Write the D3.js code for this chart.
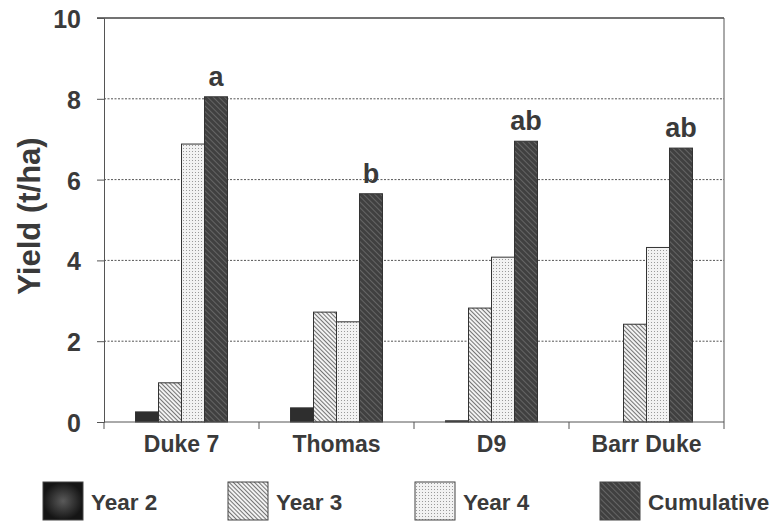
<!DOCTYPE html>
<html>
<head>
<meta charset="utf-8">
<script src="https://cdn.jsdelivr.net/npm/d3@7"></script>
<style>
  html, body { margin: 0; padding: 0; background: #fff; }
  svg { display: block; }
  text { font-family: "Liberation Sans", Arial, sans-serif; font-weight: bold; fill: #3a3a3a; }
</style>
</head>
<body>
<svg id="chart" width="776" height="522"></svg>
<script>
// ---- data ----
const categories = ["Duke 7", "Thomas", "D9", "Barr Duke"];
const seriesNames = ["Year 2", "Year 3", "Year 4", "Cumulative"];
const year2 = [0.25, 0.35, 0.03, 0];
const year3 = [0.97, 2.72, 2.82, 2.42];
const year4 = [6.88, 2.48, 4.08, 4.32];
const cumulative = [8.05, 5.65, 6.95, 6.78];
const sigLetters = ["a", "b", "ab", "ab"];
const yTicks = [0, 2, 4, 6, 8, 10];
const yTitle = "Yield (t/ha)";

const seriesValues = [year2, year3, year4, cumulative];
const fills = ["url(#pYear2)", "url(#pYear3)", "url(#pYear4)", "url(#pCum)"];
const legendFills = ["url(#gYear2)", "url(#pYear3)", "url(#pYear4)", "url(#pCum)"];

const svg = d3.select("#chart");
const defs = svg.append("defs");

// patterns
const p2 = defs.append("pattern").attr("id", "pYear2").attr("patternUnits", "userSpaceOnUse")
  .attr("width", 4).attr("height", 4);
p2.append("rect").attr("width", 4).attr("height", 4).attr("fill", "#2e2e2e");

const g2 = defs.append("radialGradient").attr("id", "gYear2");
g2.append("stop").attr("offset", "0%").attr("stop-color", "#5a5a5a");
g2.append("stop").attr("offset", "100%").attr("stop-color", "#151515");

const p3 = defs.append("pattern").attr("id", "pYear3").attr("patternUnits", "userSpaceOnUse")
  .attr("width", 3).attr("height", 3).attr("patternTransform", "rotate(-45)");
p3.append("rect").attr("width", 3).attr("height", 3).attr("fill", "#f2f2f2");
p3.append("line").attr("x1", 0).attr("y1", 0).attr("x2", 0).attr("y2", 3)
  .attr("stroke", "#4a4a4a").attr("stroke-width", 1.5);

const p4 = defs.append("pattern").attr("id", "pYear4").attr("patternUnits", "userSpaceOnUse")
  .attr("width", 3).attr("height", 3);
p4.append("rect").attr("width", 3).attr("height", 3).attr("fill", "#f2f2f2");
p4.append("rect").attr("x", 1).attr("y", 1).attr("width", 1).attr("height", 1).attr("fill", "#9a9a9a");

const pc = defs.append("pattern").attr("id", "pCum").attr("patternUnits", "userSpaceOnUse")
  .attr("width", 4).attr("height", 4).attr("patternTransform", "rotate(-45)");
pc.append("rect").attr("width", 4).attr("height", 4).attr("fill", "#404040");
pc.append("line").attr("x1", 0).attr("y1", 0).attr("x2", 0).attr("y2", 4)
  .attr("stroke", "#8a8a8a").attr("stroke-width", 1);

// scales
const x0 = d3.scaleBand().domain(categories).range([104, 724]).paddingInner(0).paddingOuter(0);
const x1 = d3.scaleBand().domain(seriesNames).range([0, x0.bandwidth()]).paddingInner(0).paddingOuter(1.37);
const y = d3.scaleLinear().domain([0, 10]).range([422, 18]);

// grid (dotted)
svg.append("g").selectAll("line").data(yTicks.filter(t => t > 0 && t < 10)).join("line")
  .attr("x1", 104).attr("x2", 724)
  .attr("y1", d => y(d)).attr("y2", d => y(d))
  .attr("stroke", "#555").attr("stroke-width", 1).attr("stroke-dasharray", "2,1.5");

// top and right frame
svg.append("line").attr("x1", 97).attr("x2", 724).attr("y1", y(10)).attr("y2", y(10))
  .attr("stroke", "#444").attr("stroke-width", 1.5);
svg.append("line").attr("x1", 724).attr("x2", 724).attr("y1", y(10)).attr("y2", y(0))
  .attr("stroke", "#555").attr("stroke-width", 1);

// bars
const groups = svg.append("g").selectAll("g").data(categories).join("g")
  .attr("transform", d => `translate(${x0(d)},0)`);
groups.selectAll("rect").data((c, i) => seriesNames.map((s, j) => ({ s, j, v: seriesValues[j][i] })))
  .join("rect")
  .attr("x", d => x1(d.s))
  .attr("width", x1.bandwidth())
  .attr("y", d => y(d.v))
  .attr("height", d => y(0) - y(d.v))
  .attr("fill", d => fills[d.j])
  .attr("stroke", d => d.v > 0 ? "#333" : "none")
  .attr("stroke-width", 1);

// significance letters
svg.append("g").selectAll("text").data(categories).join("text")
  .attr("x", d => x0(d) + x1("Cumulative") + x1.bandwidth() / 2)
  .attr("y", (d, i) => y(cumulative[i]) - 11)
  .attr("text-anchor", "middle")
  .attr("font-size", 27)
  .text((d, i) => sigLetters[i]);

// y axis
const yAxis = svg.append("g").attr("transform", "translate(104,0)")
  .call(d3.axisLeft(y).tickValues(yTicks).tickSize(7).tickPadding(16).tickFormat(d3.format("d")));
yAxis.select(".domain").attr("stroke", "#555");
yAxis.selectAll(".tick line").attr("stroke", "#555");
yAxis.selectAll(".tick text").attr("font-size", 25).attr("fill", "#3a3a3a")
  .attr("font-family", "'Liberation Sans', Arial, sans-serif").attr("dy", "0.38em");

// x axis
const xAxis = svg.append("g").attr("transform", "translate(0,422)");
xAxis.append("line").attr("x1", 104).attr("x2", 724).attr("stroke", "#555");
const boundaries = categories.map(c => x0(c)).concat([x0.range()[1]]);
xAxis.selectAll("line.tk").data(boundaries).join("line").attr("class", "tk")
  .attr("x1", d => d).attr("x2", d => d).attr("y1", 0).attr("y2", 7).attr("stroke", "#555");
xAxis.selectAll("text").data(categories).join("text")
  .attr("x", d => x0(d) + x0.bandwidth() / 2)
  .attr("y", 30)
  .attr("text-anchor", "middle")
  .attr("font-size", 23)
  .text(d => d);

// y title
svg.append("text")
  .attr("transform", "translate(40,216) rotate(-90)")
  .attr("text-anchor", "middle")
  .attr("font-size", 31)
  .text(yTitle);

// legend
const legendX = [43, 228, 415, 600];
const leg = svg.append("g").selectAll("g").data(seriesNames).join("g")
  .attr("transform", (d, i) => `translate(${legendX[i]},482)`);
leg.append("rect").attr("width", 40).attr("height", 38)
  .attr("fill", (d, i) => legendFills[i]).attr("stroke", "#444").attr("stroke-width", 1);
leg.append("text").attr("x", 48).attr("y", 28).attr("font-size", 22.5).text(d => d);
</script>
</body>
</html>
